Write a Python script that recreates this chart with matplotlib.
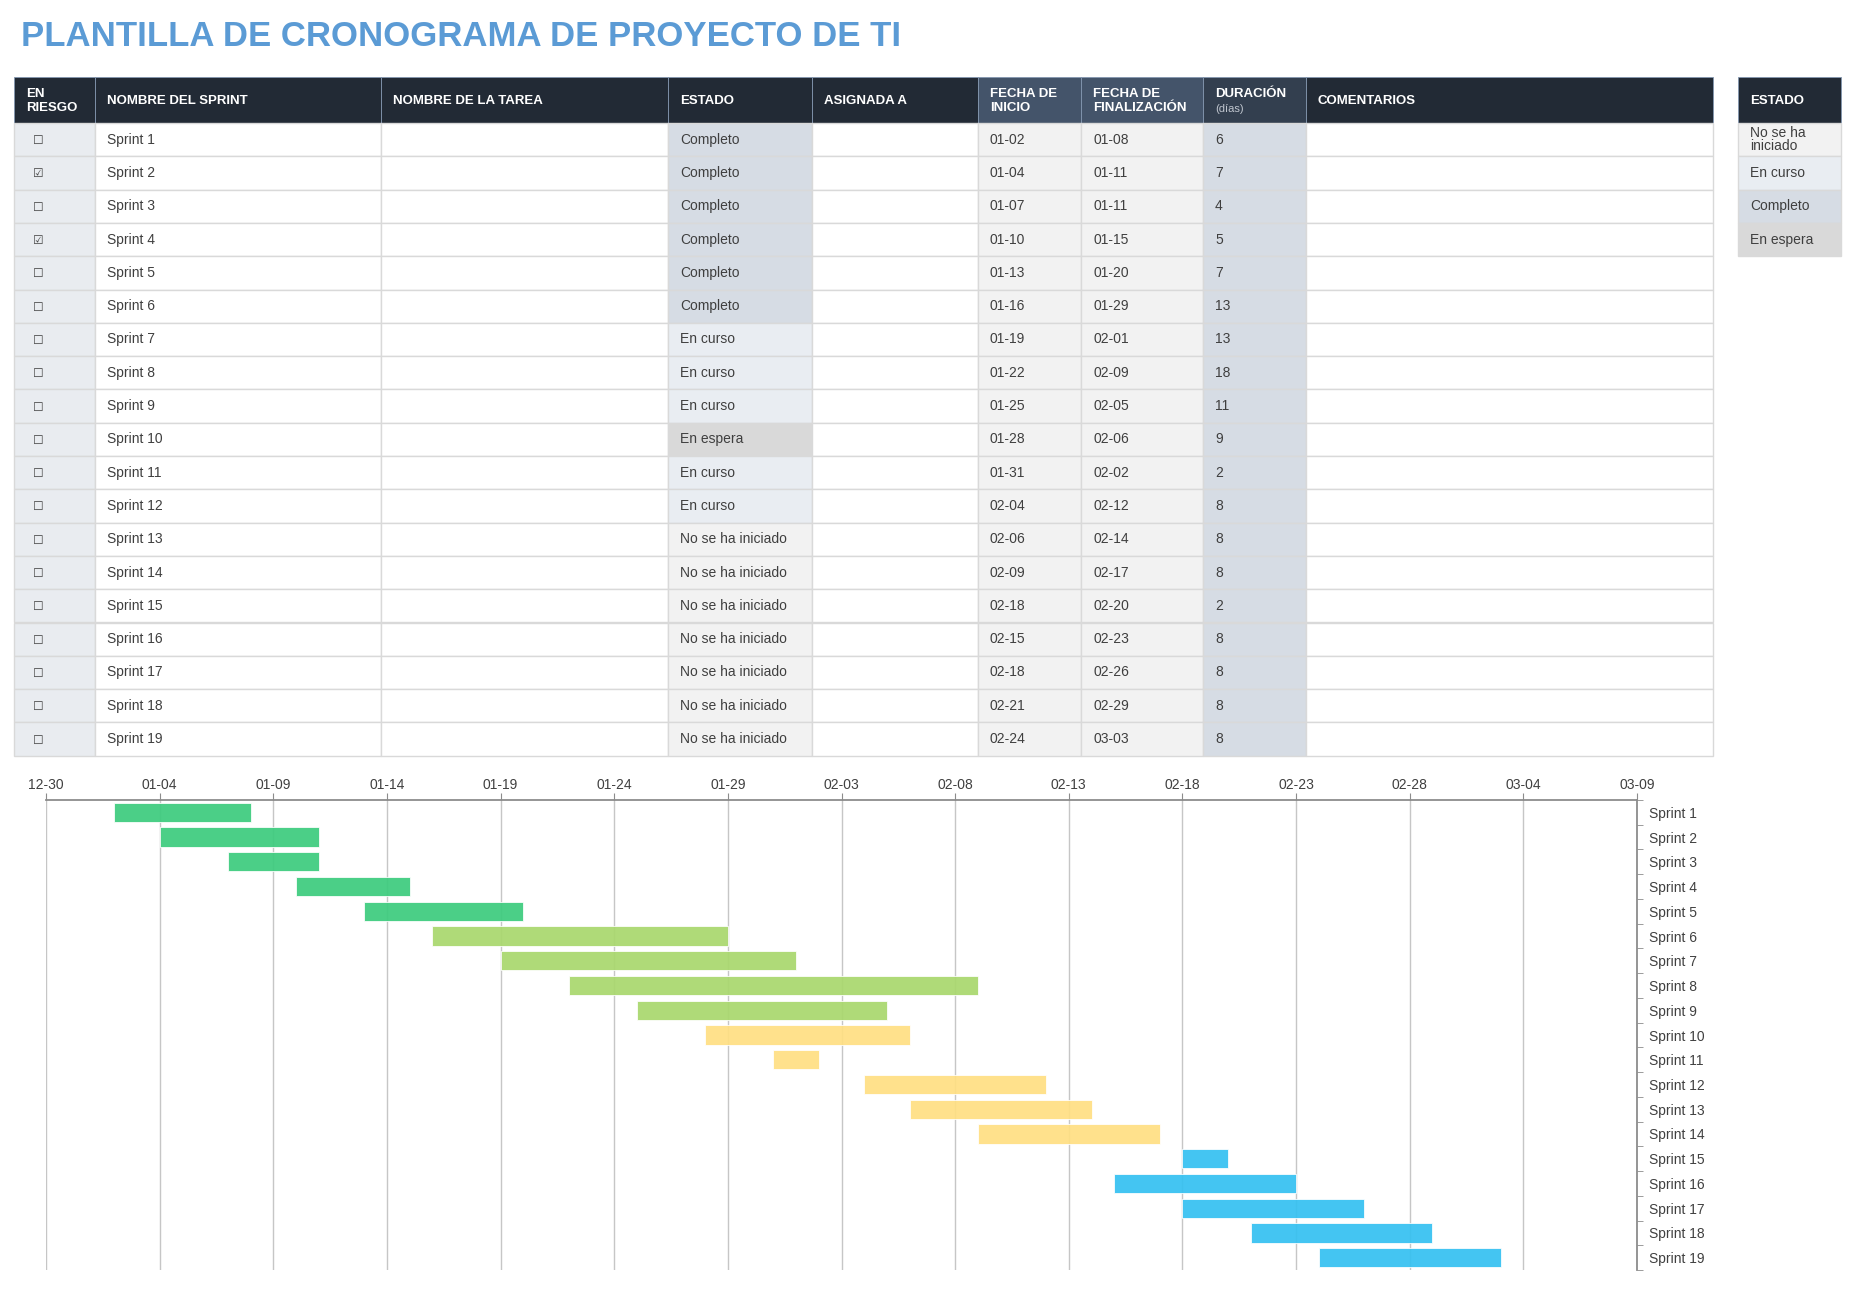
import datetime as dt
import numpy as np
import matplotlib
matplotlib.use('Agg')
import matplotlib.pyplot as plt
import matplotlib.dates as mdates
from matplotlib.patches import Rectangle
from matplotlib.ticker import FixedLocator, NullFormatter

# ---- data ----
sprints = ['Sprint %d' % i for i in range(1, 20)]
at_risk = [0, 1, 0, 1, 0, 0, 0, 0, 0, 0, 0, 0, 0, 0, 0, 0, 0, 0, 0]
status = (['Completo'] * 6 + ['En curso'] * 3 + ['En espera'] + ['En curso'] * 2
          + ['No se ha iniciado'] * 7)
start = ['01-02', '01-04', '01-07', '01-10', '01-13', '01-16', '01-19', '01-22', '01-25', '01-28',
         '01-31', '02-04', '02-06', '02-09', '02-18', '02-15', '02-18', '02-21', '02-24']
end = ['01-08', '01-11', '01-11', '01-15', '01-20', '01-29', '02-01', '02-09', '02-05', '02-06',
       '02-02', '02-12', '02-14', '02-17', '02-20', '02-23', '02-26', '02-29', '03-03']
duration = [6, 7, 4, 5, 7, 13, 13, 18, 11, 9, 2, 8, 8, 8, 2, 8, 8, 8, 8]
bar_colors = ['#3DCC7E'] * 5 + ['#A9D86E'] * 4 + ['#FFDF83'] * 5 + ['#36C1F1'] * 5

headers = ['EN\nRIESGO', 'NOMBRE DEL SPRINT', 'NOMBRE DE LA TAREA', 'ESTADO', 'ASIGNADA A',
           'FECHA DE\nINICIO', 'FECHA DE\nFINALIZACIÓN', 'DURACIÓN', 'COMENTARIOS']
legend_labels = ['No se ha\niniciado', 'En curso', 'Completo', 'En espera']
status_fill = {'No se ha iniciado': '#F2F2F2', 'En curso': '#E9EDF2',
               'Completo': '#D6DCE4', 'En espera': '#D9D9D9'}
axis_start, axis_end = '12-30', '03-09'

title = 'PLANTILLA DE CRONOGRAMA DE PROYECTO DE TI'


def to_date(s):
    m, d = map(int, s.split('-'))
    return dt.date(2023 if m == 12 else 2024, m, d)


plt.rcParams['font.family'] = ['Liberation Sans', 'DejaVu Sans']
W, H = 1857, 1294
fig = plt.figure(figsize=(W / 100, H / 100), dpi=100)

# ---- table, drawn in pixel coords ----
tab = fig.add_axes([0, 0, 1, 1])
tab.set_xlim(0, W)
tab.set_ylim(H, 0)
tab.axis('off')

tab.text(21, 37, title, fontsize=25, weight='bold', color='#5B9BD5', va='center', ha='left')

col_edges = [14, 95, 381, 668, 812, 978, 1081, 1203, 1306, 1713]
hdr_top, hdr_bot, row_h = 77, 123, 33.3
txt_col = '#3F3F3F'
line_col = '#D9D9D9'

hdr_fill = ['#222A35'] * 5 + ['#44546A', '#44546A', '#333F4F', '#222A35']
for j, h in enumerate(headers):
    x0, x1 = col_edges[j], col_edges[j + 1]
    tab.add_patch(Rectangle((x0, hdr_top), x1 - x0, hdr_bot - hdr_top, fc=hdr_fill[j],
                            ec='#8497B0', lw=0.6))
    if h == 'DURACIÓN':
        tab.text(x0 + 12, 94, h, color='white', fontsize=9.5, weight='bold', va='center')
        tab.text(x0 + 12, 109, '(días)', color='#BFC5CE', fontsize=8, va='center')
    else:
        tab.text(x0 + 12, (hdr_top + hdr_bot) / 2 + 1, h, color='white', fontsize=9.5,
                 weight='bold', va='center', linespacing=1.2)

body_fill = ['#E9ECF0', 'white', 'white', None, 'white', '#F2F2F2', '#F2F2F2', '#D6DCE4', 'white']
for i, name in enumerate(sprints):
    y0 = hdr_bot + i * row_h
    yc = y0 + row_h / 2
    values = [None, name, '', status[i], '', start[i], end[i], str(duration[i]), '']
    for j in range(len(headers)):
        x0, x1 = col_edges[j], col_edges[j + 1]
        fc = status_fill[status[i]] if j == 3 else body_fill[j]
        tab.add_patch(Rectangle((x0, y0), x1 - x0, row_h, fc=fc, ec=line_col, lw=1.0))
        if values[j]:
            tab.text(x0 + 12, yc, values[j], color=txt_col, fontsize=10, va='center')
    tab.text(38, yc + 1, '☑' if at_risk[i] else '☐', family='DejaVu Sans', fontsize=8.5,
             color='#404040', ha='center', va='center')

# status legend
lx0, lx1 = 1738, 1841
tab.add_patch(Rectangle((lx0, hdr_top), lx1 - lx0, hdr_bot - hdr_top, fc='#222A35', ec='#8497B0', lw=0.6))
tab.text(lx0 + 12, (hdr_top + hdr_bot) / 2 + 1, 'ESTADO', color='white', fontsize=9.5,
         weight='bold', va='center')
for i, lab in enumerate(legend_labels):
    y0 = hdr_bot + i * row_h
    tab.add_patch(Rectangle((lx0, y0), lx1 - lx0, row_h, fc=status_fill[lab.replace('\n', ' ')],
                            ec=line_col, lw=1.0))
    tab.text(lx0 + 12, y0 + row_h / 2, lab, color=txt_col, fontsize=10, va='center',
             linespacing=0.95)

# ---- gantt ----
gx = fig.add_axes([46 / W, 1 - 1270 / H, (1637 - 46) / W, 470 / H])
left = mdates.date2num([to_date(s) for s in start])
right = mdates.date2num([to_date(s) for s in end])
y = np.arange(len(sprints))
gx.barh(y, right - left, left=left, height=0.78, color=bar_colors, alpha=0.93,
        edgecolor='#FFFFFF', linewidth=0.6, zorder=2)

x0, x1 = mdates.date2num([to_date(axis_start), to_date(axis_end)])
gx.set_xlim(x0, x1)
gx.set_ylim(len(sprints) - 0.5, -0.5)
gx.xaxis.set_major_locator(FixedLocator(np.arange(x0, x1 + 1, 5)))
gx.xaxis.set_major_formatter(mdates.DateFormatter('%m-%d'))
gx.xaxis.tick_top()
gx.tick_params(axis='x', length=5, color='#8C8C8C', labelsize=10, labelcolor='#404040', pad=1)
gx.grid(axis='x', color='#C6C6C6', lw=1.0, zorder=0)
gx.set_axisbelow(True)

gx.yaxis.tick_right()
gx.set_yticks(y)
gx.set_yticklabels(sprints)
gx.yaxis.set_minor_locator(FixedLocator(np.arange(-0.5, len(sprints), 1)))
gx.yaxis.set_minor_formatter(NullFormatter())
gx.tick_params(axis='y', which='major', length=0, labelsize=10, labelcolor='#404040', pad=9)
gx.tick_params(axis='y', which='minor', length=4, color='#8C8C8C', right=True, left=False)

for side in ['left', 'bottom']:
    gx.spines[side].set_visible(False)
for side in ['top', 'right']:
    gx.spines[side].set_color('#8C8C8C')
    gx.spines[side].set_linewidth(1.3)

fig.savefig('out.png', dpi=100, facecolor='white')
